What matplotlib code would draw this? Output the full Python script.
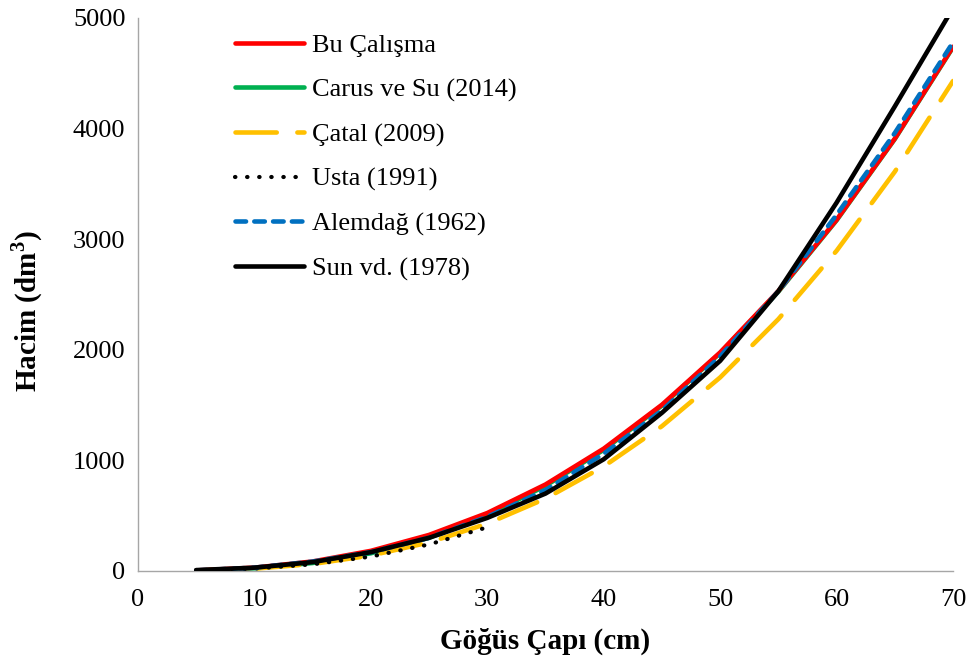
import matplotlib
matplotlib.use("Agg")
from matplotlib import pyplot as plt

plt.rcParams['font.family'] = ['Liberation Serif', 'DejaVu Serif']
plt.rcParams['mathtext.fontset'] = 'custom'
plt.rcParams['mathtext.rm'] = 'Liberation Serif'
plt.rcParams['mathtext.bf'] = 'Liberation Serif:bold'

# ______DATA______
diameter = [5, 10, 15, 20, 25, 30, 35, 40, 45, 50, 55, 60, 65, 70]
usta_diameter = [5, 10, 15, 20, 25, 30]

bu_calisma = [5, 30, 86, 182, 326, 524, 782, 1106, 1503, 1976, 2531, 3175, 3909, 4740]
carus_su = [4, 24, 72, 160, 300, 505, 770, 1095, 1495, 1970, 2525, 3170, 3905, 4735]
catal = [3, 21, 63, 140, 258, 428, 654, 945, 1309, 1750, 2277, 2895, 3610, 4430]
usta = [4, 22, 60, 130, 240, 395]
alemdag = [5, 30, 85, 170, 300, 490, 730, 1060, 1450, 1940, 2530, 3220, 3960, 4780]
sun = [8, 30, 80, 170, 300, 480, 700, 1010, 1430, 1900, 2530, 3330, 4200, 5090]

labels = ["Bu Çalışma", "Carus ve Su (2014)", "Çatal (2009)",
          "Usta (1991)", "Alemdağ (1962)", "Sun vd. (1978)"]

# ______PLOT______
fig = plt.figure(figsize=(9.69, 6.61), dpi=100)
ax = fig.add_axes([0.1424, 0.1362, 0.8411, 0.8366])

# green sits under red, so red stays visible like in the original
ax.plot(diameter, bu_calisma, color="#ff0000", lw=3.3, label=labels[0],
        solid_capstyle="round", zorder=3)
ax.plot(diameter, carus_su, color="#00b050", lw=3.3, label=labels[1],
        solid_capstyle="round", zorder=2)
ax.plot(diameter, catal, color="#ffc000", lw=3.3, label=labels[2],
        linestyle=(0, (9, 4.5)), dash_capstyle="round", zorder=4)
ax.plot(usta_diameter, usta, color="black", lw=3, label=labels[3],
        linestyle=(0, (0.1, 2.8)), dash_capstyle="round", zorder=5)
ax.plot(diameter, alemdag, color="#0070c0", lw=3.3, label=labels[4],
        linestyle=(0, (2.3, 1.8)), dash_capstyle="round", zorder=6)
ax.plot(diameter, sun, color="black", lw=3.3, label=labels[5],
        solid_capstyle="round", zorder=7)

ax.set_xlim(0, 70)
ax.set_ylim(0, 5000)
ax.set_xticks(range(0, 71, 10))
ax.set_yticks(range(0, 5001, 1000))
ax.tick_params(length=0, labelsize=19, colors="black")
ax.tick_params(axis="x", pad=13)
ax.tick_params(axis="y", pad=9)

for side in ["top", "right"]:
    ax.spines[side].set_visible(False)
for side in ["left", "bottom"]:
    ax.spines[side].set_color("#a6a6a6")
    ax.spines[side].set_linewidth(1)

ax.set_xlabel("Göğüs Çapı (cm)", fontsize=21, fontweight="bold", labelpad=12)
fig.text(27 / 969, 1 - 311 / 661, r"Hacim (dm$^{\mathbf{3}}$)", fontsize=21,
         fontweight="bold", rotation=90, ha="center", va="center")

ax.legend(loc="upper left", bbox_to_anchor=(0.218, 0.985), bbox_transform=fig.transFigure,
          frameon=False, fontsize=19, handlelength=2.6, handletextpad=0.3,
          labelspacing=0.79)

fig.savefig("out.png", dpi=100)
